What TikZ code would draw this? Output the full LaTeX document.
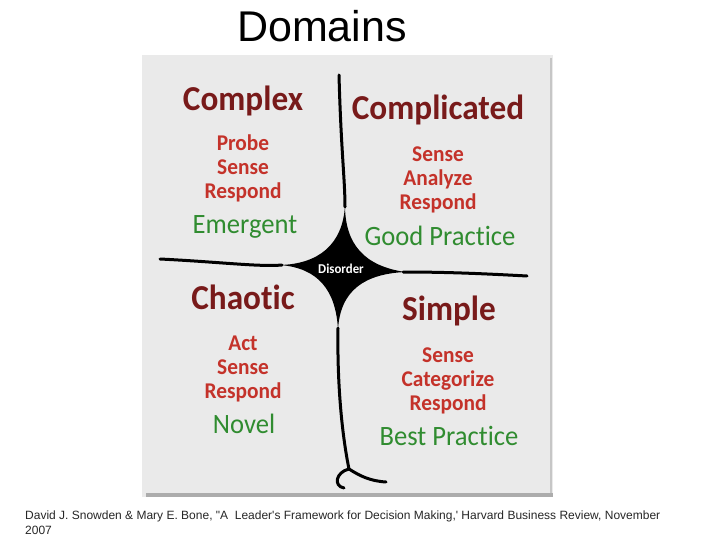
\documentclass[tikz,border=0pt]{standalone}
\usepackage{fontspec}
\setmainfont[Ligatures=TeXOff]{Liberation Sans}
\newfontfamily\cynfont[Ligatures=NoCommon,FakeStretch=0.95]{Carlito}
\usetikzlibrary{positioning}
\definecolor{domainred}{RGB}{120,26,26}
\definecolor{verbred}{RGB}{196,50,42}
\definecolor{practicegreen}{RGB}{48,140,48}
\definecolor{paper}{RGB}{234,234,234}
\tikzstyle{heading}=[font=\fontsize{43}{48}\selectfont,anchor=base,inner sep=0pt]
\tikzstyle{quadname}=[font=\cynfont\bfseries\fontsize{35}{38}\selectfont,text=domainred,
                    inner sep=0pt,text height=0.7em,text depth=0.22em]
\tikzstyle{verb}=[font=\cynfont\bfseries\fontsize{22.5}{24}\selectfont,text=verbred,
                  inner sep=0pt,text height=0.7em,text depth=0.22em]
\tikzstyle{practice}=[font=\cynfont\fontsize{28}{30}\selectfont,text=practicegreen,
                      inner sep=0pt,text height=0.7em,text depth=0.22em]
\tikzstyle{disorder}=[font=\cynfont\bfseries\fontsize{13.5}{14}\selectfont,text=white,
                      fill=black,rounded corners=3pt,inner sep=1.5pt]
\tikzstyle{border}=[line width=3pt,line cap=round]
\tikzstyle{source}=[font=\fontsize{12}{13}\selectfont,anchor=base west,inner sep=0pt,
                    text=black!85]

\begin{document}
\begin{tikzpicture}[x=1pt,y=-1pt,node distance=24pt]
  \useasboundingbox (0,0) rectangle (720,540);

  % paper
  \fill[paper] (142,55) rectangle (553,497);
  \draw[gray!45,line width=1.5pt] (551,58) -- (551,494);
  \draw[gray!65,line width=4pt] (146,495) -- (553,495);

  \node[heading] (T) at (322,42) {Domains};

  % boundaries and centre
  \fill (345,205) .. controls (345,245) and (365,266) .. (405,272)
                  .. controls (365,274) and (340,290) .. (338,330)
                  .. controls (336,290) and (318,268) .. (280,265)
                  .. controls (318,264) and (343,245) .. (345,205) -- cycle;
  \draw[border] (339,75) .. controls (341,150) and (345,180) .. (345,207);
  \draw[border] (160,259) .. controls (220,262) and (260,267) .. (282,265);
  \draw[border] (403,272) .. controls (450,272) and (490,274) .. (527,276);
  \draw[border] (338,328) .. controls (337,390) and (343,440) .. (349,469);
  \draw[border] (349,469) .. controls (336,472) and (333,486) .. (344,488);
  \draw[border] (349,469) .. controls (360,476) and (370,481) .. (386,482);
  \node[disorder] (D) at (341,269) {Disorder};

  % complex
  \node[quadname] (CX)  at (243,108)      {Complex};
  \node[verb]     (CX1) at (243,148)      {Probe};
  \node[verb]     (CX2) [below of=CX1]    {Sense};
  \node[verb]     (CX3) [below of=CX2]    {Respond};
  \node[practice] (CXp) at (245,231.5)    {Emergent};

  % complicated
  \node[quadname] (CD)  at (438,117)      {Complicated};
  \node[verb]     (CD1) at (438,159)      {Sense};
  \node[verb]     (CD2) [below of=CD1]    {Analyze};
  \node[verb]     (CD3) [below of=CD2]    {Respond};
  \node[practice] (CDp) at (440,243.5)    {Good Practice};

  % chaotic
  \node[quadname] (CH)  at (243,307)      {Chaotic};
  \node[verb]     (CH1) at (243,348)      {Act};
  \node[verb]     (CH2) [below of=CH1]    {Sense};
  \node[verb]     (CH3) [below of=CH2]    {Respond};
  \node[practice] (CHp) at (244,431.5)    {Novel};

  % simple
  \node[quadname] (SI)  at (449,318)      {Simple};
  \node[verb]     (SI1) at (448,360)      {Sense};
  \node[verb]     (SI2) [below of=SI1]    {Categorize};
  \node[verb]     (SI3) [below of=SI2]    {Respond};
  \node[practice] (SIp) at (449,443.5)    {Best Practice};

  \node[source] (S1) at (25,519) {David J. Snowden \& Mary E. Bone, "A~ Leader's Framework for Decision Making,' Harvard Business Review, November};
  \node[source] (S2) at (25,534) {2007};
\end{tikzpicture}
\end{document}
